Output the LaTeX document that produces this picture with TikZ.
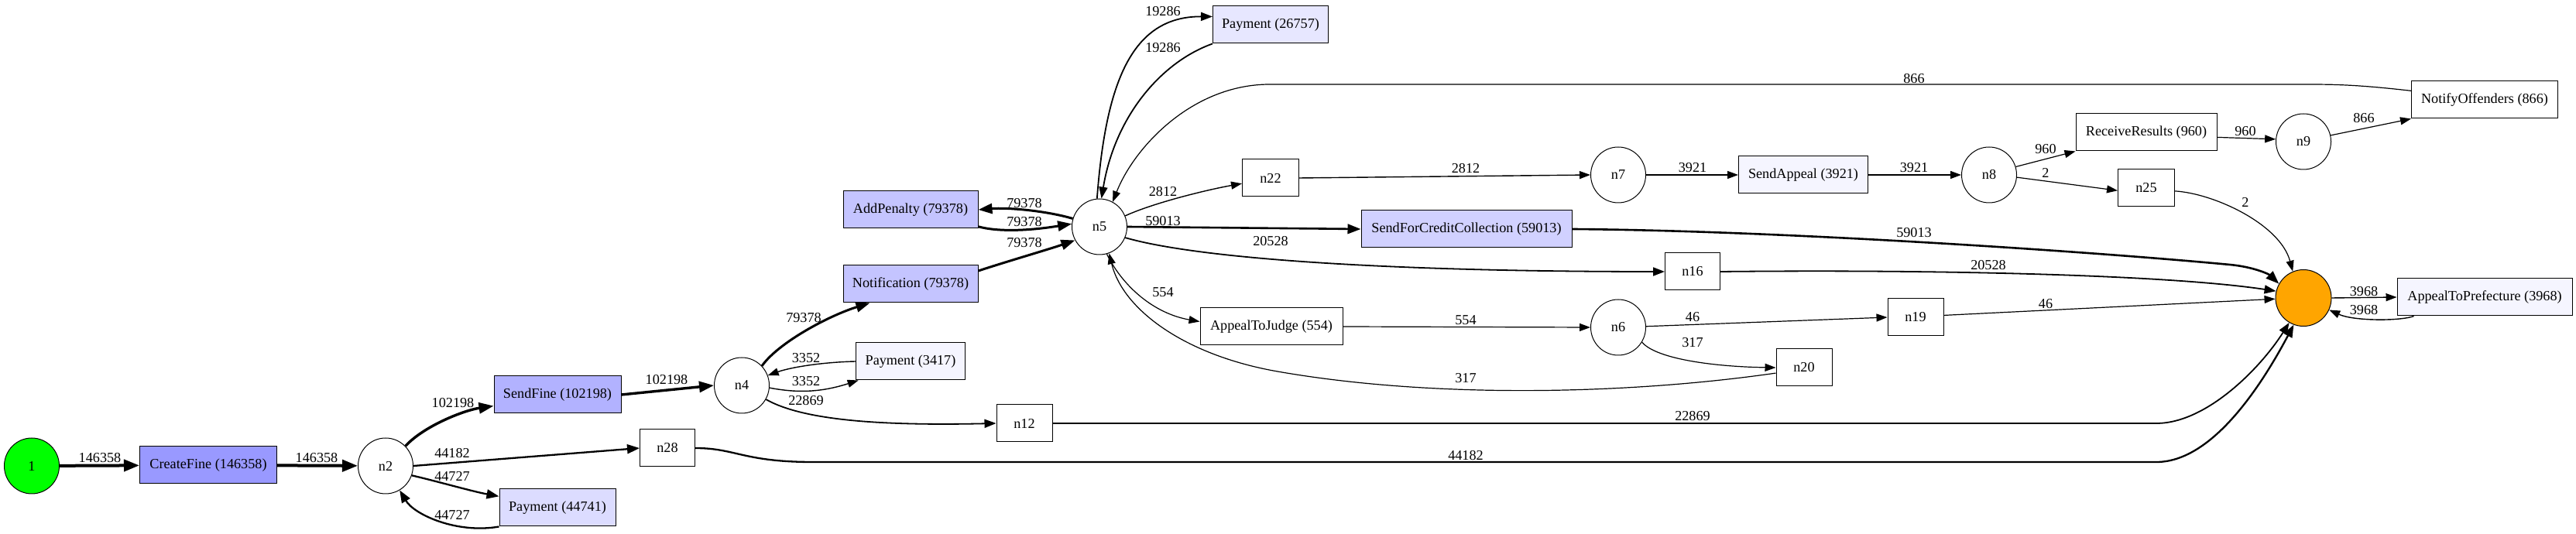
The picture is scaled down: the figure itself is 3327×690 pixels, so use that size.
\documentclass[tikz,border=0pt]{standalone}
\usepackage{fontspec}
\setmainfont{Liberation Serif}
\usetikzlibrary{arrows.meta,shapes.geometric}
\definecolor{cA}{RGB}{153,153,255}
\definecolor{cB}{RGB}{178,178,255}
\definecolor{cC}{RGB}{196,196,255}
\definecolor{cD}{RGB}{209,209,255}
\definecolor{cE}{RGB}{220,220,255}
\definecolor{cF}{RGB}{231,231,255}
\definecolor{cG}{RGB}{245,245,255}
\definecolor{startgreen}{RGB}{0,255,0}
\definecolor{endorange}{RGB}{255,165,0}
\begin{document}
\begin{tikzpicture}[x=1pt,y=1pt,
  font=\fontsize{18.2}{22}\selectfont,
  box/.style={draw=black,line width=1pt,rectangle,minimum height=48pt,inner sep=0pt},
  circ/.style={draw=black,line width=1pt,ellipse,minimum width=71pt,minimum height=72pt,inner sep=0pt},
  lbl/.style={inner sep=0pt},
  eA/.style={line width=4pt,-{Triangle[length=20pt,width=15pt]}},
  eB/.style={line width=3.4pt,-{Triangle[length=19pt,width=14pt]}},
  eC/.style={line width=3pt,-{Triangle[length=18pt,width=13pt]}},
  eCC/.style={line width=2.6pt,-{Triangle[length=17pt,width=12.5pt]}},
  eD/.style={line width=2.3pt,-{Triangle[length=16pt,width=12pt]}},
  eE/.style={line width=1.8pt,-{Triangle[length=15pt,width=11pt]}},
  eS/.style={line width=1.4pt,-{Triangle[length=14pt,width=10pt]}},
  eT/.style={line width=1.2pt,-{Triangle[length=14pt,width=10pt]}}
]
\useasboundingbox (0,0) rectangle (3327,690);
% nodes
\node[circ,fill=startgreen] (s) at (41,88) {1};
\node[box,fill=cA,minimum width=177pt] (cf) at (269,89) {CreateFine (146358)};
\node[circ] (n2) at (498,88) {n2};
\node[box,fill=cB,minimum width=164pt] (sf) at (720,180) {SendFine (102198)};
\node[box,minimum width=71pt] (n28) at (862,111) {n28};
\node[box,fill=cE,minimum width=150pt] (p1) at (720,34) {Payment (44741)};
\node[circ] (n4) at (958,192) {n4};
\node[box,fill=cC,minimum width=174pt] (ap) at (1176,419) {AddPenalty (79378)};
\node[box,fill=cC,minimum width=174pt] (nt) at (1176,323) {Notification (79378)};
\node[box,fill=cG,minimum width=141pt] (p3) at (1176,223) {Payment (3417)};
\node[box,minimum width=72pt] (n12) at (1323,143) {n12};
\node[circ] (n5) at (1420,397) {n5};
\node[box,fill=cF,minimum width=149pt] (p2) at (1641,658) {Payment (26757)};
\node[box,minimum width=73pt] (n22) at (1641,460) {n22};
\node[box,fill=cD,minimum width=272pt] (sc) at (1894,394) {SendForCreditCollection (59013)};
\node[box,minimum width=71pt] (n16) at (2186,339) {n16};
\node[box,minimum width=184pt] (aj) at (1642,268) {AppealToJudge (554)};
\node[circ] (n7) at (2090,464) {n7};
\node[circ] (n6) at (2090,267) {n6};
\node[box,fill=cG,minimum width=167pt] (sa) at (2329,464) {SendAppeal (3921)};
\node[circ] (n8) at (2569,464) {n8};
\node[box,minimum width=182pt] (rr) at (2772,519) {ReceiveResults (960)};
\node[box,minimum width=73pt] (n25) at (2772,447) {n25};
\node[circ] (n9) at (2975,507) {n9};
\node[box,minimum width=189pt] (no) at (3209,561) {NotifyOffenders (866)};
\node[box,minimum width=72pt] (n19) at (2474,280) {n19};
\node[box,minimum width=72pt] (n20) at (2330,215) {n20};
\node[circ,fill=endorange,minimum width=72pt,minimum height=73pt] (e) at (2975,305) {};
\node[box,fill=cG,minimum width=226pt] (apf) at (3209,306) {AppealToPrefecture (3968)};
% edges
\draw[eA] (s) -- (cf);
\draw[eA] (cf) -- (n2);
\draw[eB] (n2.45) .. controls (548,140) and (600,160) .. (sf.190);
\draw[eB] (sf.east) -- (n4.west);
\draw[eD] (n2.east) -- (n28.west);
\draw[eD] (n2.-20) .. controls (565,68) and (610,55) .. (p1.169);
\draw[eD] (p1.south west) .. controls (590,0) and (535,25) .. (n2.-60);
\draw[eD] (n28.east) .. controls (950,111) and (960,93) .. (1050,93) -- (2785,93) .. controls (2860,93) and (2925,200) .. (e.250);
\draw[eC] (n4.44) .. controls (1005,247) and (1070,282) .. (nt.205);
\draw[eS] (p3.west) .. controls (1060,222) and (1020,215) .. (n4.21);
\draw[eS] (n4.-5) .. controls (1030,182) and (1060,183) .. (p3.200);
\draw[eE] (n4.-30) .. controls (1040,145) and (1150,140) .. (n12.west);
\draw[eE] (n12.east) -- (2785,143) .. controls (2850,143) and (2920,215) .. (e.240);
\draw[eC] (nt.11) .. controls (1300,352) and (1355,368) .. (n5.209);
\draw[eC] (n5.163) .. controls (1350,418) and (1300,422) .. (ap.east);
\draw[eC] (ap.-14) .. controls (1290,390) and (1330,392) .. (n5.174);
\draw[eE] (n5.95) .. controls (1428,580) and (1460,669) .. (p2.172);
\draw[eE] (p2.south west) .. controls (1500,610) and (1440,540) .. (n5.86);
\draw[eT] (no.173) .. controls (3050,580) and (3020,581) .. (2980,581) -- (1640,581) .. controls (1540,581) and (1465,500) .. (n5.62);
\draw[eS] (n5.23) .. controls (1490,428) and (1560,445) .. (n22.191);
\draw[eS] (n22.east) -- (n7.west);
\draw[eS] (n7) -- (sa);
\draw[eS] (sa) -- (n8);
\draw[eT] (n8.17) -- (rr.south west);
\draw[eT] (n8.-5) -- (n25.185);
\draw[eT] (rr.-4) -- (n9.175);
\draw[eT] (n9.13) -- (no.south west);
\draw[eT] (n25.-6) .. controls (2860,440) and (2945,400) .. (e.112);
\draw[eCC] (n5.east) -- (sc.west);
\draw[eCC] (sc.east) .. controls (2300,392) and (2700,365) .. (2880,348) .. controls (2910,345.2) and (2930,336) .. (e.150);
\draw[eE] (n5.-23) .. controls (1550,355) and (1800,339) .. (n16.west);
\draw[eE] (n16.east) .. controls (2500,342) and (2800,335) .. (e.166);
\draw[eT] (n5.-75) .. controls (1450,320) and (1490,285) .. (aj.176);
\draw[eT] (aj.east) -- (n6.west);
\draw[eT] (n6.2) -- (n19.west);
\draw[eT] (n6.-32) .. controls (2140,225) and (2220,216) .. (n20.west);
\draw[eT] (n20.191) .. controls (2100,180) and (1850,175) .. (1650,210) .. controls (1530,231) and (1450,290) .. (n5.-70);
\draw[eT] (n19.4) -- (e.182);
\draw[eS] (e.east) -- (apf.west);
\draw[eS] (apf.195) .. controls (3100,275) and (3040,275) .. (e.-25);
% labels
\node[lbl] (l1) at (129,98) {146358};
\node[lbl] (l2) at (409,98) {146358};
\node[lbl] (l3) at (585,169) {102198};
\node[lbl] (l4) at (861,199) {102198};
\node[lbl] (l5) at (584,104) {44182};
\node[lbl] (l6) at (584,75) {44727};
\node[lbl] (l7) at (584,25) {44727};
\node[lbl] (l8) at (1038,279) {79378};
\node[lbl] (l9) at (1041,227) {3352};
\node[lbl] (l10) at (1041,197) {3352};
\node[lbl] (l11) at (1041,172) {22869};
\node[lbl] (l12) at (1323,427) {79378};
\node[lbl] (l13) at (1323,403) {79378};
\node[lbl] (l14) at (1323,376) {79378};
\node[lbl] (l15) at (1502,312) {554};
\node[lbl] (l16) at (1502,675) {19286};
\node[lbl] (l17) at (1502,628) {19286};
\node[lbl] (l18) at (1502,442) {2812};
\node[lbl] (l19) at (1502,404) {59013};
\node[lbl] (l20) at (1641,378) {20528};
\node[lbl] (l21) at (1893,472) {2812};
\node[lbl] (l22) at (2472,588) {866};
\node[lbl] (l23) at (2186,473) {3921};
\node[lbl] (l24) at (2472,473) {3921};
\node[lbl] (l25) at (2642,497) {960};
\node[lbl] (l26) at (2642,467) {2};
\node[lbl] (l27) at (2900,520) {960};
\node[lbl] (l28) at (3053,537) {866};
\node[lbl] (l29) at (2900,429) {2};
\node[lbl] (l30) at (2472,389) {59013};
\node[lbl] (l31) at (2568,347) {20528};
\node[lbl] (l32) at (1893,276) {554};
\node[lbl] (l33) at (2186,280) {46};
\node[lbl] (l34) at (2186,247) {317};
\node[lbl] (l35) at (1893,201) {317};
\node[lbl] (l36) at (2186,152) {22869};
\node[lbl] (l37) at (1893,101) {44182};
\node[lbl] (l38) at (2642,297) {46};
\node[lbl] (l39) at (3053,313) {3968};
\node[lbl] (l40) at (3053,289) {3968};
\end{tikzpicture}
\end{document}
